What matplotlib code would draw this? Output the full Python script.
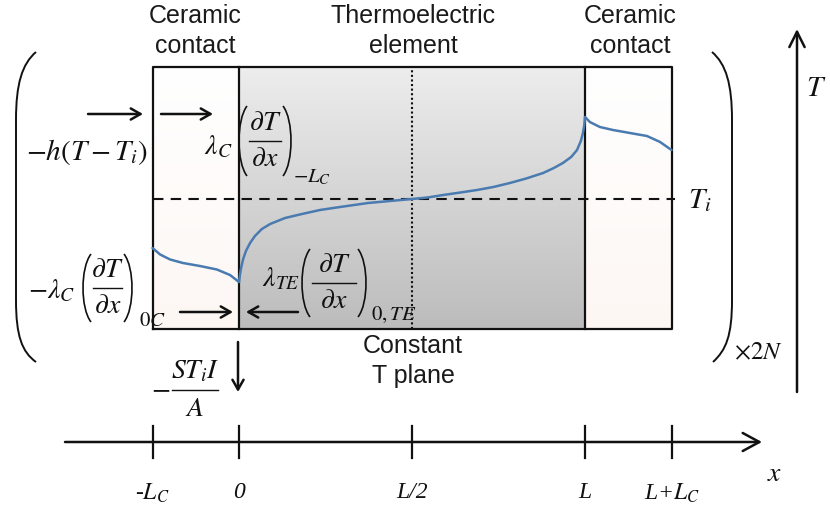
import numpy as np
import matplotlib
matplotlib.use('Agg')
from matplotlib import pyplot as plt
from matplotlib.colors import LinearSegmentedColormap
from matplotlib.path import Path
from matplotlib.patches import PathPatch

plt.rcParams['mathtext.fontset'] = 'stix'
plt.rcParams['font.family'] = ['Liberation Sans', 'DejaVu Sans']

# geometry of the leg: ceramic contact | thermoelectric element | ceramic contact
L = 1.0
LC = 0.25

tick_pos = [-LC, 0.0, L / 2, L, L + LC]
tick_labels = [r'-$L_C$', '0', 'L/2', 'L', r'L+$L_C$']

# temperature profile (relative to T_i) along x
x_ceramic_left = [-0.25, -0.228, -0.199, -0.162, -0.113, -0.064, -0.026, 0.0]
T_ceramic_left = [-0.49, -0.555, -0.605, -0.64, -0.67, -0.705, -0.76, -0.83]

x_te = [0.0, 0.003, 0.006, 0.012, 0.020, 0.032, 0.046, 0.066, 0.090, 0.133,
        0.182, 0.234, 0.292, 0.373, 0.436, 0.5, 0.545, 0.59, 0.64, 0.688,
        0.735, 0.783, 0.83, 0.879, 0.91, 0.936, 0.96, 0.977, 0.988, 0.994,
        0.998, 1.0]
T_te = [-0.83, -0.75, -0.69, -0.60, -0.52, -0.44, -0.37, -0.30, -0.25, -0.19,
        -0.15, -0.11, -0.08, -0.04, -0.02, 0.0, 0.015, 0.04, 0.065, 0.09,
        0.12, 0.16, 0.205, 0.26, 0.31, 0.36, 0.42, 0.49, 0.58, 0.66,
        0.74, 0.82]

x_ceramic_right = [1.0, 1.014, 1.043, 1.081, 1.130, 1.179, 1.217, 1.25]
T_ceramic_right = [0.82, 0.77, 0.72, 0.69, 0.66, 0.63, 0.57, 0.49]

BOX_TOP, BOX_BOTTOM = 1.32, -1.30
CURVE = '#4a7bb0'
INK = '#111111'

W, H = 830, 513
fig = plt.figure(figsize=(W / 100, H / 100), dpi=100)

# main axes in (x, T) units
ax = fig.add_axes([0, 0, 1, 1])
ax.axis('off')

# gradients for the element and the contacts
te_cmap = LinearSegmentedColormap.from_list('te', ['#ededed', '#bcbcbc'])
cer_cmap = LinearSegmentedColormap.from_list('cer', ['#ffffff', '#fdf7f4'])
grad = np.linspace(0, 1, 256)[:, None]
ax.imshow(grad, extent=[0, L, BOX_BOTTOM, BOX_TOP], cmap=te_cmap, aspect='auto', zorder=1)
ax.imshow(grad, extent=[-LC, 0, BOX_BOTTOM, BOX_TOP], cmap=cer_cmap, aspect='auto', zorder=1)
ax.imshow(grad, extent=[L, L + LC, BOX_BOTTOM, BOX_TOP], cmap=cer_cmap, aspect='auto', zorder=1)

# outline and inner boundaries
ax.plot([-LC, L + LC, L + LC, -LC, -LC], [BOX_BOTTOM, BOX_BOTTOM, BOX_TOP, BOX_TOP, BOX_BOTTOM],
        color=INK, lw=1.6, zorder=4)
for xb in (0.0, L):
    ax.plot([xb, xb], [BOX_BOTTOM, BOX_TOP], color=INK, lw=1.6, zorder=4)
ax.plot([L / 2, L / 2], [BOX_BOTTOM, BOX_TOP], color=INK, lw=1.5, ls=(0, (1, 1.2)), zorder=3)
ax.plot([-LC, L + LC + 0.01], [0, 0], color=INK, lw=1.5, ls=(0, (5, 3.5)), zorder=3)

for xs, ts in ((x_ceramic_left, T_ceramic_left), (x_te, T_te), (x_ceramic_right, T_ceramic_right)):
    ax.plot(xs, ts, color=CURVE, lw=1.8, zorder=5, solid_capstyle='round')

ax.set_xlim((0 - 239) / 346, (W - 239) / 346)
ax.set_ylim((199 - H) / 100, 199 / 100)

# overlay in pixel units for labels, arrows and brackets
deco = fig.add_axes([0, 0, 1, 1])
deco.set_xlim(0, W)
deco.set_ylim(H, 0)
deco.axis('off')
deco.patch.set_alpha(0)

sans = dict(fontsize=18, color='#1a1a1a', ha='center', va='center', linespacing=1.35)
deco.text(195, 31, 'Ceramic\ncontact', **sans)
deco.text(413, 31, 'Thermoelectric\nelement', **sans)
deco.text(630, 31, 'Ceramic\ncontact', **sans)
deco.text(413, 361, 'Constant\nT plane', **sans)


def arrow(x0, y0, x1, y1, head=0.7, width=0.4, lw=1.8):
    deco.annotate('', xy=(x1, y1), xytext=(x0, y0),
                  arrowprops=dict(arrowstyle='->,head_length=%g,head_width=%g' % (head, width),
                                  lw=lw, color=INK, shrinkA=0, shrinkB=0))


def paren(tip, bulge, top, bottom, lw=1.2):
    c = tip + (bulge - tip) * 4 / 3
    h = bottom - top
    p = Path([(tip, top), (c, top + 0.2 * h), (c, bottom - 0.2 * h), (tip, bottom)],
             [Path.MOVETO, Path.CURVE4, Path.CURVE4, Path.CURVE4])
    deco.add_patch(PathPatch(p, fill=False, lw=lw, edgecolor=INK))


def fraction(xc, ybar, num, den, half, gap=18, fs=20):
    deco.plot([xc - half, xc + half], [ybar, ybar], color=INK, lw=1.0)
    deco.text(xc, ybar - gap, num, fontsize=fs, ha='center', va='center', color=INK)
    deco.text(xc, ybar + gap, den, fontsize=fs, ha='center', va='center', color=INK)


def gradient_term(prefix, pre_xy, xl, xr, ybar, half_h, sub, sub_xy):
    deco.text(pre_xy[0], pre_xy[1], prefix, fontsize=20, ha='left', va='center', color=INK)
    paren(xl + 8, xl, ybar - half_h, ybar + half_h)
    paren(xr - 8, xr, ybar - half_h, ybar + half_h)
    fraction((xl + xr) / 2, ybar, r'$\partial T$', r'$\partial x$', (xr - xl) / 2 - 10)
    deco.text(sub_xy[0], sub_xy[1], sub, fontsize=15, ha='left', va='center', color=INK)


arrow(88, 114, 143, 114)
arrow(161, 114, 213, 114)
arrow(180, 312, 233, 312)
arrow(298, 312, 246, 312)
arrow(238, 342, 238, 392)

math = dict(color=INK, va='center')
deco.text(26, 152, r'$-h(T-T_i)$', fontsize=21, ha='left', **math)

gradient_term(r'$\lambda_C$', (204, 147), 239, 291, 141, 35, r'$-L_C$', (293, 177))
gradient_term(r'$-\lambda_C$', (28, 291), 83, 132, 288, 34, r'$\mathrm{0}C$', (139, 321))
gradient_term(r'$\lambda_{TE}$', (262, 279), 302, 366, 283, 34, r'$\mathrm{0,}TE$', (371, 315))

deco.text(151, 389, r'$-$', fontsize=20, ha='left', **math)
fraction(195, 390, r'$ST_iI$', r'$A$', 23, gap=19)

deco.text(700, 200, r'$T_i$', fontsize=21, ha='center', **math)
deco.text(758, 352, r'$\times 2N$', fontsize=18, ha='center', **math)

# big brackets around the repeated leg
lpar = Path([(36, 52), (22, 64), (16, 84), (16, 120), (16, 300), (16, 336), (22, 352), (36, 362)],
            [Path.MOVETO, Path.CURVE4, Path.CURVE4, Path.CURVE4, Path.LINETO,
             Path.CURVE4, Path.CURVE4, Path.CURVE4])
rpar = Path([(712, 52), (726, 64), (732, 84), (732, 120), (732, 300), (732, 336), (726, 350), (713, 362)],
            [Path.MOVETO, Path.CURVE4, Path.CURVE4, Path.CURVE4, Path.LINETO,
             Path.CURVE4, Path.CURVE4, Path.CURVE4])
for p in (lpar, rpar):
    deco.add_patch(PathPatch(p, fill=False, lw=1.4, edgecolor=INK))

# T axis
arrow(797, 392, 797, 29, head=1.1, width=0.55, lw=1.8)
deco.text(816, 88, r'$T$', fontsize=21, ha='center', **math)

# x axis with the positions of the interfaces
AXIS_Y = 442
arrow(65, AXIS_Y, 762, AXIS_Y, head=1.2, width=0.65, lw=1.8)
for xt, lab in zip(tick_pos, tick_labels):
    xp = 239 + 346 * xt
    deco.plot([xp, xp], [AXIS_Y - 16, AXIS_Y + 16], color=INK, lw=1.6)
    deco.text(xp, 493, lab, fontsize=17, ha='center', va='center', color=INK,
              family=['Liberation Serif', 'DejaVu Serif'], style='italic')
deco.text(775, 474, r'$x$', fontsize=20, ha='center', **math)

fig.savefig('out.png', dpi=100)
